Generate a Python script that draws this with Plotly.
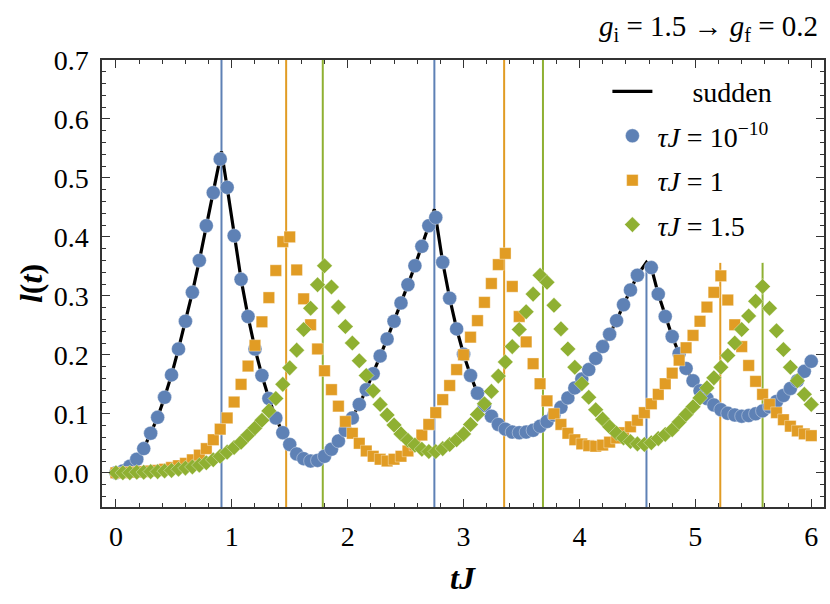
import plotly.graph_objects as go

# sampling times (tJ), step 0.06 from 0 to 6
t = [round(0.06 * i, 2) for i in range(101)]

# tau J = 1e-10 (blue circles); None = point clipped away in the original
blue = [0.000, 0.003, 0.011, 0.023, 0.041, 0.067, 0.094, 0.128, 0.166, 0.210,
        0.257, 0.306, 0.360, 0.419, 0.475, 0.532, 0.484, 0.402, 0.328, 0.265,
        0.210, 0.165, 0.126, 0.093, 0.068, 0.048, 0.032, 0.024, 0.020, 0.021,
        0.028, 0.040, 0.054, 0.072, 0.093, 0.116, 0.141, 0.168, 0.198, 0.227,
        0.257, 0.288, 0.319, 0.351, 0.384, 0.419, 0.433, 0.357, 0.296, 0.244,
        0.201, 0.165, 0.135, 0.114, 0.096, 0.082, 0.074, 0.069, 0.068, 0.069,
        0.072, 0.079, 0.087, 0.098, 0.111, 0.127, 0.144, 0.159, 0.175, 0.194,
        0.214, 0.235, 0.258, 0.285, 0.310, 0.335, None, 0.348, 0.303, 0.265,
        0.231, 0.202, 0.177, 0.156, 0.139, 0.126, 0.115, 0.107, 0.101, 0.098,
        0.096, 0.097, 0.100, 0.105, 0.112, 0.121, 0.131, 0.143, 0.156, 0.172,
        0.189]

# tau J = 1 (orange squares)
orange = [0.000, 0.000, 0.001, 0.001, 0.002, 0.003, 0.004, 0.006, 0.009, 0.012,
          0.016, 0.022, 0.030, 0.041, 0.056, 0.074, 0.093, 0.120, 0.150, 0.181,
          0.216, 0.256, 0.297, 0.343, 0.392, 0.400, 0.344, 0.295, 0.251, 0.210,
          0.173, 0.141, 0.113, 0.087, 0.067, 0.050, 0.037, 0.028, 0.023, 0.020,
          0.023, 0.028, 0.037, 0.047, 0.064, 0.082, 0.102, 0.124, 0.148, 0.175,
          0.200, 0.230, 0.258, 0.289, 0.321, 0.353, 0.372, 0.316, 0.265, 0.222,
          0.185, 0.151, 0.122, 0.100, 0.082, 0.067, 0.056, 0.049, 0.046, 0.045,
          0.047, 0.052, 0.059, 0.068, 0.078, 0.089, 0.102, 0.117, 0.133, 0.151,
          0.169, 0.191, 0.212, 0.233, 0.257, 0.281, 0.306, 0.334, 0.293, 0.251,
          0.214, 0.182, 0.155, 0.133, 0.116, 0.102, 0.090, 0.079, 0.071, 0.066,
          0.063]

# tau J = 1.5 (green diamonds)
green = [0.000, 0.000, 0.000, 0.001, 0.001, 0.002, 0.002, 0.003, 0.004, 0.006,
         0.008, 0.010, 0.013, 0.017, 0.022, 0.028, 0.035, 0.043, 0.052, 0.064,
         0.076, 0.089, 0.105, 0.126, 0.150, 0.178, 0.208, 0.243, 0.279, 0.319,
         0.351, 0.315, 0.281, 0.248, 0.220, 0.190, 0.165, 0.139, 0.116, 0.098,
         0.081, 0.066, 0.055, 0.047, 0.040, 0.036, 0.036, 0.041, 0.048, 0.056,
         0.066, 0.082, 0.099, 0.117, 0.138, 0.164, 0.188, 0.214, 0.243, 0.273,
         0.303, 0.335, 0.323, 0.284, 0.244, 0.210, 0.179, 0.151, 0.128, 0.107,
         0.091, 0.078, 0.067, 0.059, 0.053, 0.049, 0.048, 0.051, 0.058, 0.065,
         0.073, 0.086, 0.099, 0.112, 0.127, 0.144, 0.161, 0.179, 0.199, 0.220,
         0.243, 0.266, 0.291, 0.316, 0.279, 0.241, 0.209, 0.179, 0.156, 0.133,
         0.116]

# sudden quench (black line): same samples plus the cusps
cusp_t = [0.911, 2.748, 4.578]
cusp_l = [0.545, 0.447, 0.357]

# critical times (vertical lines) and their top ends
crit_blue = [0.911, 2.748, 4.578]
crit_orange = [1.469, 3.350, 5.215]
crit_green = [1.785, 3.685, 5.580]
line_top = [0.75, 0.75, 0.356]
line_bottom = -0.07

C_BLUE = "#5E81B5"
C_ORANGE = "#E19C24"
C_GREEN = "#8FB032"
FONT = "Liberation Serif"

# build sudden curve
pairs = [(tt, ll) for tt, ll in zip(t, blue) if ll is not None]
pairs += list(zip(cusp_t, cusp_l))
pairs.sort()
sud_t = [p[0] for p in pairs]
sud_l = [p[1] for p in pairs]

fig = go.Figure()

for crit, col in ((crit_blue, C_BLUE), (crit_orange, C_ORANGE), (crit_green, C_GREEN)):
    xs, ys = [], []
    for tc, top in zip(crit, line_top):
        xs += [tc, tc, None]
        ys += [line_bottom, top, None]
    fig.add_trace(go.Scatter(x=xs, y=ys, mode="lines", line=dict(color=col, width=2),
                             showlegend=False, hoverinfo="skip"))

mk_line = dict(width=0.6, color="rgba(255,255,255,0.6)")
fig.add_trace(go.Scatter(x=sud_t, y=sud_l, mode="lines",
                         name="&nbsp;&nbsp;&nbsp;&nbsp;&nbsp;sudden",
                         line=dict(color="black", width=3.2), legendgroup="a"))
fig.add_trace(go.Scatter(x=t, y=blue, mode="markers",
                         name="<i>τJ</i>&nbsp;=&nbsp;10<sup>−10</sup>",
                         marker=dict(symbol="circle", size=14, color=C_BLUE, line=mk_line),
                         legendgroup="b"))
fig.add_trace(go.Scatter(x=t, y=orange, mode="markers",
                         name="<i>τJ</i>&nbsp;=&nbsp;1",
                         marker=dict(symbol="square", size=11.5, color=C_ORANGE, line=mk_line),
                         legendgroup="c"))
fig.add_trace(go.Scatter(x=t, y=green, mode="markers",
                         name="<i>τJ</i>&nbsp;=&nbsp;1.5",
                         marker=dict(symbol="diamond", size=12, color=C_GREEN, line=mk_line),
                         legendgroup="d"))

axis_common = dict(
    showgrid=False, zeroline=False, showline=True, linecolor="#333333", linewidth=1.5,
    mirror="allticks", ticks="inside", ticklen=8, tickwidth=1.2, tickcolor="#333333",
    tickfont=dict(family=FONT, size=28, color="black"),
)

fig.update_xaxes(range=[-0.12, 6.11], tick0=0, dtick=1, ticklabelstandoff=4,
                 minor=dict(ticks="inside", ticklen=4.5, dtick=0.2, tick0=0,
                            tickcolor="#333333", tickwidth=1), **axis_common)
fig.update_yaxes(range=[-0.058, 0.70], tick0=0, dtick=0.1, tickformat=".1f",
                 ticklabelstandoff=6,
                 minor=dict(ticks="inside", ticklen=4.5, dtick=0.02, tick0=0,
                            tickcolor="#333333", tickwidth=1), **axis_common)

fig.update_layout(
    width=830, height=604,
    margin=dict(l=102, r=4, t=60, b=97),
    paper_bgcolor="white", plot_bgcolor="white",
    font=dict(family=FONT, color="black"),
    legend=dict(x=0.70, y=0.985, xanchor="left", yanchor="top",
                bgcolor="rgba(0,0,0,0)", font=dict(family=FONT, size=28),
                traceorder="grouped", tracegroupgap=5, itemwidth=40),
    annotations=[
        dict(text="<i>g</i><sub>i</sub>&nbsp;=&nbsp;1.5&nbsp;→&nbsp;<i>g</i><sub>f</sub>&nbsp;=&nbsp;0.2",
             xref="paper", yref="paper", x=0.995, y=1.072, xanchor="right", yanchor="middle",
             showarrow=False, font=dict(family=FONT, size=29)),
        dict(text="<b><i>tJ</i></b>", xref="paper", yref="paper", x=0.5, y=-0.159,
             xanchor="center", yanchor="middle", showarrow=False,
             font=dict(family=FONT, size=32)),
        dict(text="<b><i>l</i>(<i>t</i>)</b>", xref="paper", yref="paper", x=-0.099, y=0.50,
             xanchor="center", yanchor="middle", textangle=-90, showarrow=False,
             font=dict(family=FONT, size=32)),
    ],
)

fig.write_html("out.html", config={"displayModeBar": False},
               post_script="document.body.style.margin='0px';")
